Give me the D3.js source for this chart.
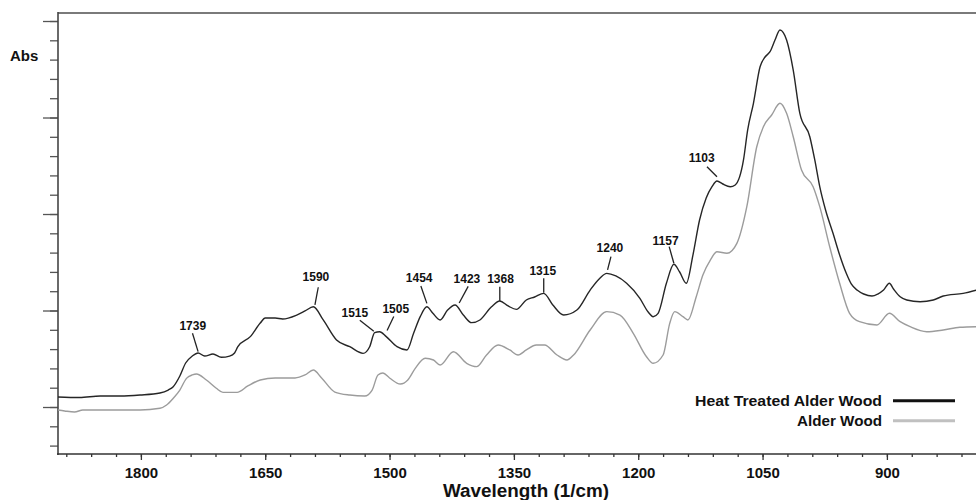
<!DOCTYPE html>
<html><head><meta charset="utf-8">
<script src="https://cdn.jsdelivr.net/npm/d3@7"></script>
<style>
html,body{margin:0;padding:0;background:#fff;}
svg{display:block;font-family:"Liberation Sans",Arial,sans-serif;}
</style></head>
<body><svg id="c" width="976" height="500"></svg>
<script>
// ---- data ----
const heatWavenumber = [1900,1874,1849,1825,1801,1777,1767,1761,1753,1746,1738,1731,1723,1713,1703,1693,1687,1683,1668,1656,1650,1638,1629,1612,1602,1592,1580,1564,1548,1532,1524,1518,1512,1504,1491,1479,1471,1463,1455,1448,1439,1430,1421,1411,1401,1391,1377,1367,1357,1347,1335,1325,1314,1303,1290,1274,1258,1246,1238,1227,1214,1198,1188,1182,1176,1166,1157,1150,1142,1134,1126,1118,1111,1105,1098,1089,1083,1073,1068,1061,1053,1047,1041,1035,1029,1021,1013,1005,993,987,981,974,965,957,949,943,936,928,918,911,904,897,892,884,876,860,844,832,808,792];
const heatAbs = [0.1104,0.1098,0.1114,0.1114,0.1124,0.1145,0.1176,0.1210,0.1321,0.1456,0.1528,0.1560,0.1528,0.1549,0.1515,0.1528,0.1560,0.1625,0.1729,0.1870,0.1922,0.1922,0.1912,0.1953,0.1995,0.2039,0.1902,0.1694,0.1625,0.1556,0.1625,0.1770,0.1780,0.1729,0.1625,0.1591,0.1764,0.1936,0.2039,0.1974,0.1902,0.2005,0.2057,0.1953,0.1874,0.1902,0.2039,0.2098,0.2047,0.2012,0.2109,0.2140,0.2178,0.2057,0.1953,0.2005,0.2212,0.2337,0.2385,0.2358,0.2282,0.2126,0.1984,0.1936,0.1971,0.2282,0.2479,0.2399,0.2282,0.2575,0.2938,0.3166,0.3283,0.3342,0.3311,0.3283,0.3301,0.3560,0.3870,0.4147,0.4526,0.4627,0.4682,0.4803,0.4907,0.4803,0.4492,0.4043,0.3801,0.3560,0.3283,0.3041,0.2800,0.2575,0.2385,0.2275,0.2212,0.2171,0.2150,0.2171,0.2212,0.2282,0.2223,0.2143,0.2109,0.2091,0.2109,0.2150,0.2178,0.2212];
const alderWavenumber = [1900,1892,1880,1870,1837,1801,1777,1769,1761,1753,1745,1738,1733,1721,1709,1701,1684,1671,1656,1638,1614,1602,1592,1582,1566,1548,1530,1521,1514,1508,1500,1487,1478,1469,1457,1447,1439,1423,1407,1395,1383,1369,1355,1345,1335,1323,1313,1298,1286,1278,1258,1238,1222,1206,1190,1182,1170,1162,1156,1146,1140,1130,1122,1113,1105,1093,1081,1069,1057,1049,1039,1029,1021,1013,1003,989,981,969,957,945,933,912,897,884,872,852,832,812,792];
const alderAbs = [0.0969,0.0959,0.0948,0.0969,0.0969,0.0969,0.0987,0.1021,0.1090,0.1176,0.1297,0.1332,0.1342,0.1280,0.1194,0.1152,0.1152,0.1218,0.1280,0.1301,0.1301,0.1332,0.1383,0.1301,0.1155,0.1124,0.1114,0.1176,0.1332,0.1352,0.1301,0.1238,0.1280,0.1401,0.1505,0.1487,0.1435,0.1573,0.1453,0.1418,0.1539,0.1642,0.1591,0.1539,0.1591,0.1642,0.1642,0.1539,0.1487,0.1539,0.1798,0.1988,0.1953,0.1764,0.1521,0.1453,0.1539,0.1867,0.1988,0.1936,0.1902,0.2143,0.2368,0.2523,0.2609,0.2593,0.2696,0.3076,0.3697,0.3905,0.4026,0.4147,0.4043,0.3801,0.3456,0.3283,0.3076,0.2661,0.2282,0.1971,0.1884,0.1850,0.1971,0.1884,0.1832,0.1780,0.1798,0.1826,0.1832];
const seriesNames = ["Heat Treated Alder Wood", "Alder Wood"];
const peakLabels = ["1739","1590","1515","1505","1454","1423","1368","1315","1240","1157","1103"];
const peakAnchors = [1731,1590,1519,1503,1455,1416,1367,1314,1237,1157,1105];
const xTickLabels = [1800,1650,1500,1350,1200,1050,900];
const xMinorTicks = d3.range(1890, 800, -30);
const yMajorTicks = [0.1,0.2,0.3,0.4,0.5];
const yMinorTicks = d3.range(0.06, 0.5001, 0.02);

// ---- layout (label leader offsets: gap, dx, dy, textDx, textDy) ----
const labelLayout = [
  [1.3,-5.6,18.4,0.3,-3.3],[4,3.3,17.7,-2.3,-6],[3.7,-14,11,-5,-3.3],[7,6.7,14,2,-3.4],
  [3.4,-6,17.3,-1.7,-4.3],[7,9,16.6,-1.3,-3.4],[0,0,14.3,0.7,-3.4],[0.6,0,14.4,-1,-3.3],
  [3.7,3.4,13.3,-1,-5],[1,-4.7,16.6,-3.6,-1.7],[4.3,-10,10,-5.3,-5]
];
const L = 58, R = 976, T = 13, B = 454;

const svg = d3.select("#c");
const x = d3.scaleLinear().domain([1900, 792.5]).range([L, R]);
const y = d3.scaleLinear().domain([0.05130, 0.50830]).range([B, T]);

// frame
svg.append("line").attr("x1", L).attr("x2", R).attr("y1", T).attr("y2", T)
  .attr("stroke", "#7a7a7a").attr("stroke-width", 2);

// y axis minor + major ticks
const yMinor = d3.axisLeft(y).tickValues(yMinorTicks).tickSize(8).tickFormat("");
const gy = svg.append("g").attr("transform", `translate(${L},0)`).call(yMinor);
const yMajor = d3.axisLeft(y).tickValues(yMajorTicks).tickSize(15).tickFormat("");
const gy2 = svg.append("g").attr("transform", `translate(${L},0)`).call(yMajor);
[gy, gy2].forEach(g => {
  g.select(".domain").remove();
  g.selectAll(".tick line").attr("stroke", "#555").attr("stroke-width", 1.3);
});
svg.append("line").attr("x1", L).attr("x2", L).attr("y1", T - 1).attr("y2", B + 1)
  .attr("stroke", "#444").attr("stroke-width", 1.6);

// x axis
const gx = svg.append("g").attr("transform", `translate(0,${B})`)
  .call(d3.axisBottom(x).tickValues(xMinorTicks).tickSize(3).tickFormat(""));
gx.select(".domain").remove();
gx.selectAll(".tick line").attr("stroke", "#333").attr("stroke-width", 1.3);
const gx2 = svg.append("g").attr("transform", `translate(0,${B})`)
  .call(d3.axisBottom(x).tickValues(xTickLabels).tickSize(6).tickPadding(7).tickFormat(d3.format("d")));
gx2.select(".domain").remove();
gx2.selectAll(".tick line").attr("stroke", "#333").attr("stroke-width", 1.3);
gx2.selectAll(".tick text").attr("font-size", 15).attr("font-weight", "bold")
  .attr("fill", "#111").attr("font-family", "'Liberation Sans',Arial,sans-serif");
svg.append("line").attr("x1", L - 1).attr("x2", R).attr("y1", B).attr("y2", B)
  .attr("stroke", "#333").attr("stroke-width", 1.6);

svg.append("text").attr("x", 526).attr("y", 497).attr("text-anchor", "middle")
  .attr("font-size", 18).attr("font-weight", "bold").attr("fill", "#111")
  .attr("textLength", 166).attr("lengthAdjust", "spacingAndGlyphs")
  .text("Wavelength (1/cm)");
svg.append("text").attr("x", 10).attr("y", 61).attr("font-size", 15)
  .attr("font-weight", "bold").attr("fill", "#111").text("Abs");

// curves
const line = d3.line().x(d => x(d[0])).y(d => y(d[1])).curve(d3.curveMonotoneX);
const heat = heatWavenumber.map((w, i) => [w, heatAbs[i]]);
const alder = alderWavenumber.map((w, i) => [w, alderAbs[i]]);
const plot = svg.append("g");
plot.append("path").datum(alder).attr("d", line).attr("fill", "none")
  .attr("stroke", "#9c9c9c").attr("stroke-width", 1.4);
plot.append("path").datum(heat).attr("d", line).attr("fill", "none")
  .attr("stroke", "#262626").attr("stroke-width", 1.4);

// peak annotations
const heatAt = w => {
  const xs = heatWavenumber.slice().reverse(), ys = heatAbs.slice().reverse();
  const i = d3.bisectLeft(xs, w);
  if (i <= 0) return ys[0];
  const t = (w - xs[i - 1]) / (xs[i] - xs[i - 1]);
  return ys[i - 1] + t * (ys[i] - ys[i - 1]);
};
const ann = svg.append("g");
peakLabels.forEach((lab, i) => {
  const [gap, dx, dy, tdx, tdy] = labelLayout[i];
  const bx = x(peakAnchors[i]);
  const by = y(heatAt(peakAnchors[i])) - gap;
  const tx = bx + dx, ty = by - dy;
  ann.append("line").attr("x1", bx).attr("y1", by).attr("x2", tx).attr("y2", ty)
    .attr("stroke", "#222").attr("stroke-width", 1.3);
  ann.append("text").attr("x", tx + tdx).attr("y", ty + tdy).attr("text-anchor", "middle")
    .attr("font-size", 12).attr("font-weight", "bold").attr("fill", "#111").text(lab);
});

// legend
const leg = svg.append("g");
const legColors = ["#111", "#c0c0c0"];
const legY = [406, 426];
const legWidths = [187, 85];
seriesNames.forEach((name, i) => {
  leg.append("text").attr("x", 882).attr("y", legY[i]).attr("text-anchor", "end")
    .attr("font-size", 15.3).attr("font-weight", "bold").attr("fill", "#111")
    .attr("textLength", legWidths[i]).attr("lengthAdjust", "spacingAndGlyphs").text(name);
  leg.append("line").attr("x1", 893).attr("x2", 955).attr("y1", legY[i] - 5.3).attr("y2", legY[i] - 5.3)
    .attr("stroke", legColors[i]).attr("stroke-width", 3);
});
</script></body></html>
